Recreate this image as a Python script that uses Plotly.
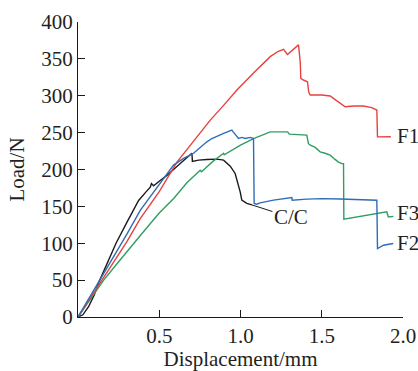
import plotly.graph_objects as go

# ---- data ----
cc_x = [0, 0.03, 0.065, 0.1, 0.13, 0.18, 0.234, 0.3, 0.373, 0.42, 0.445, 0.452, 0.465, 0.5, 0.547,
        0.629, 0.67, 0.701, 0.704, 0.742, 0.793, 0.855, 0.896, 0.937, 0.967, 0.988, 0.998, 1.008,
        1.039, 1.07]
cc_y = [0, 3, 14, 30, 48, 72, 100, 128, 158, 170, 176, 181, 178, 184, 192,
        208, 216, 222, 211, 212.7, 213.6, 214, 212.7, 204.6, 194.6, 178.8, 169.7, 158.4,
        154, 152]

f1_x = [0, 0.1, 0.2, 0.3, 0.383, 0.5, 0.609, 0.723, 0.814, 0.9, 0.978, 1.08, 1.183, 1.23, 1.265,
        1.289, 1.32, 1.357, 1.368, 1.371, 1.39, 1.412, 1.42, 1.429, 1.5, 1.552, 1.572, 1.613, 1.644,
        1.7, 1.757, 1.808, 1.828, 1.839, 1.843, 1.88, 1.925]
f1_y = [0, 34, 68, 102, 133.5, 170, 210, 242, 267, 288, 307.7, 331, 353, 360, 363,
        356, 362, 369, 345, 323.6, 321, 319, 305, 301, 301, 299.6, 296.5, 289.7, 285,
        286, 286, 284, 281.5, 280.6, 244.3, 244.3, 244.5]

f2_x = [0, 0.1, 0.2, 0.3, 0.384, 0.5, 0.588, 0.65, 0.711, 0.793, 0.824, 0.896, 0.947, 0.955,
        0.97, 0.988, 1.008, 1.03, 1.06, 1.08, 1.084, 1.1, 1.121, 1.203, 1.316, 1.318, 1.408,
        1.5, 1.613, 1.7, 1.839, 1.843, 1.88, 1.94]
f2_y = [0, 37, 74, 112, 145, 180, 206, 215, 222, 237.5, 242, 249, 253.4, 251,
        247, 242, 243.5, 242, 243.5, 242, 154, 153, 154.7, 158.4, 162, 158.4, 159.8,
        160.5, 160, 159.5, 158.4, 92.8, 97.3, 99.6]

f3_x = [0, 0.05, 0.1, 0.158, 0.25, 0.342, 0.404, 0.5, 0.59, 0.67, 0.752, 0.76, 0.83, 0.896,
        0.9, 1.0, 1.08, 1.183, 1.29, 1.3, 1.408, 1.418, 1.43, 1.46, 1.49, 1.52, 1.552, 1.58,
        1.603, 1.624, 1.634, 1.636, 1.716, 1.8, 1.9, 1.91, 1.941]
f3_y = [0, 16, 32, 50, 75, 100, 116, 141, 161, 182, 199, 197, 211, 222,
        220, 233, 242, 251, 251, 248, 246.6, 235, 233, 230, 224, 222, 219.5, 214,
        210, 208, 208, 132.6, 135.7, 139.5, 142.5, 135.7, 136.5]

x_ticks = [0.5, 1.0, 1.5, 2.0]
x_ticktext = ["0.5", "1.0", "1.5", "2.0"]

FONT = "Liberation Serif"
TXT = "#231f20"
FS = 21

fig = go.Figure()
series = [
    ("C/C", cc_x, cc_y, "#1a1a1a"),
    ("F3", f3_x, f3_y, "#2f9e60"),
    ("F1", f1_x, f1_y, "#e8413f"),
    ("F2", f2_x, f2_y, "#2d6db8"),
]
for name, xs, ys, col in series:
    fig.add_trace(go.Scatter(x=xs, y=ys, mode="lines", name=name,
                             line=dict(color=col, width=1.4), showlegend=False))

# curve labels
for txt, xx, yy in [("F1", 1.951, 245), ("F3", 1.951, 141), ("F2", 1.951, 100)]:
    fig.add_annotation(x=xx, y=yy, text=txt, showarrow=False, xanchor="left", yanchor="middle",
                       font=dict(family=FONT, size=FS, color=TXT))
fig.add_annotation(x=cc_x[-1], y=cc_y[-1], ax=1.31, ay=135, axref="x", ayref="y",
                   text="C/C", showarrow=True, arrowhead=0, arrowwidth=1, arrowcolor="#1a1a1a",
                   font=dict(family=FONT, size=FS, color=TXT))

axis_common = dict(showline=True, linecolor="#1a1a1a", linewidth=1.3, ticks="inside", ticklen=7,
                   tickwidth=1.3, tickcolor="#1a1a1a", showgrid=False, zeroline=False,
                   tickfont=dict(family=FONT, size=FS, color=TXT))
fig.update_xaxes(range=[0, 2], tickvals=x_ticks, ticktext=x_ticktext,
                 title=dict(text="Displacement/mm", font=dict(family=FONT, size=FS, color=TXT), standoff=2),
                 **axis_common)
fig.update_yaxes(range=[0, 400], dtick=50, tick0=0,
                 title=dict(text="Load/N", font=dict(family=FONT, size=FS, color=TXT), standoff=10),
                 **axis_common)

fig.update_layout(width=418, height=371, margin=dict(l=78, r=15, t=22, b=54, autoexpand=False),
                  plot_bgcolor="white", paper_bgcolor="white")

fig.write_html("out.html", config={"displayModeBar": False},
               post_script="document.body.style.margin='0';document.body.style.overflow='hidden';")
